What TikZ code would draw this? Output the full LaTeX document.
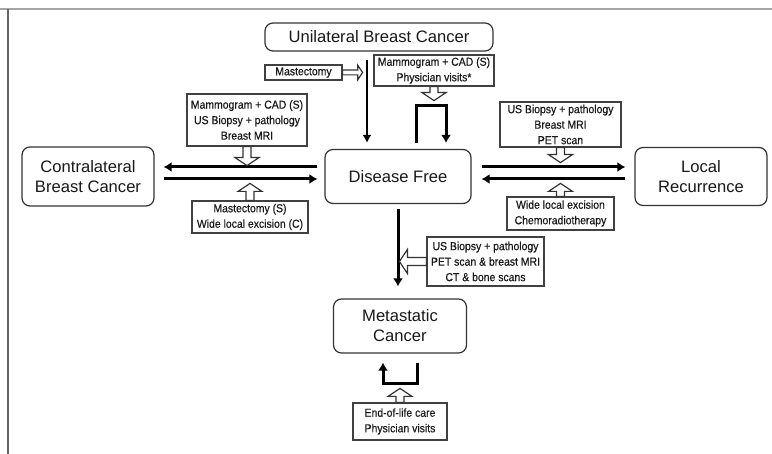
\documentclass[tikz,border=0pt]{standalone}
\usepackage{fontspec}
\setmainfont{Liberation Sans}
\newfontfamily\condfont[FakeStretch=0.9,FakeBold=0.4]{Liberation Sans}
\usepackage{tikz}
\usetikzlibrary{calc, arrows.meta, positioning}

\tikzset{
  stagebox/.style={draw=black!80, line width=1.2pt, rounded corners=8pt, fill=white,
    align=center, inner sep=0pt, text=black!90, font=\fontsize{16.6}{20}\selectfont},
  infobox/.style={draw=black!75, line width=1.2pt, fill=white, align=center,
    inner sep=0pt, text=black!90, font=\condfont\fontsize{11.6}{15.5}\selectfont},
  flow/.style={line width=2pt, -{Latex[length=8pt,width=9pt]}},
  thickflow/.style={line width=3pt, line join=miter, -{Latex[length=8pt,width=10pt]}},
  hollowarr/.style={draw=black!80, line width=1.2pt, fill=white, line join=miter},
}

% hollow block arrow: [size] {from} {tip}
\newcommand{\openarrow}[3][1]{%
  \coordinate (oa-base) at ($(#3)!{#1*8pt}!(#2)$);
  \draw[hollowarr] ($(#2)!{#1*4pt}!90:(#3)$) -- ($(oa-base)!{#1*4pt}!90:(#3)$)
    -- ($(oa-base)!{#1*12pt}!90:(#3)$) -- (#3) -- ($(oa-base)!{#1*12pt}!-90:(#3)$)
    -- ($(oa-base)!{#1*4pt}!-90:(#3)$) -- ($(#2)!{#1*4pt}!-90:(#3)$) -- cycle;}

\begin{document}
\begin{tikzpicture}[x=1pt, y=-1pt]
    \useasboundingbox (0,0) rectangle (772,454);

    % 1. Page frame
    \draw[black!35, line width=2pt] (0,9) -- (772,9);
    \draw[black!60, line width=1.5pt] (8,9) -- (8,454);

    % 2. Stages
    \node[stagebox, minimum width=228pt, minimum height=28pt] (unil) at (379,37) {Unilateral Breast Cancer};
    \node[stagebox, minimum width=132pt, minimum height=59pt] (contra) at (88,176.5) {Contralateral\\Breast Cancer};
    \node[stagebox, minimum width=146pt, minimum height=54pt] (free) at (398,176.5) {Disease Free};
    \node[stagebox, minimum width=132pt, minimum height=58pt] (local) at (701,176.5) {Local\\Recurrence};
    \node[stagebox, minimum width=133pt, minimum height=54pt] (meta) at (400,326) {Metastatic\\Cancer};

    % 3. Procedures
    \node[infobox, minimum width=77pt, minimum height=15pt] (mast) at (303.5,72.5) {Mastectomy};
    \node[infobox, minimum width=120pt, minimum height=31pt] (mamtop) at (434,70.5) {Mammogram + CAD (S)\\Physician visits*};
    \node[infobox, minimum width=120pt, minimum height=52pt] (leftup) at (247,120) {Mammogram + CAD (S)\\US Biopsy + pathology\\Breast MRI};
    \node[infobox, minimum width=116pt, minimum height=32pt] (leftdn) at (250,217) {Mastectomy (S)\\Wide local excision (C)};
    \node[infobox, minimum width=121pt, minimum height=45pt] (rightup) at (560.5,124.5) {US Biopsy + pathology\\Breast MRI\\PET scan};
    \node[infobox, minimum width=107pt, minimum height=33pt] (rightdn) at (560.5,213.5) {Wide local excision\\Chemoradiotherapy};
    \node[infobox, minimum width=117pt, minimum height=49pt] (metinfo) at (485.5,261.5) {US Biopsy + pathology\\PET scan \& breast MRI\\CT \& bone scans};
    \node[infobox, minimum width=94pt, minimum height=37pt] (eol) at (400,421.5) {End-of-life care\\Physician visits};

    % 4. Transitions
    \draw[flow] ($(unil.south)+(-12,8)$) -- ($(free.north)+(-31,-6)$);
    \draw[thickflow] ($(free.north)+(18,-6)$) -- ++(0,-37) -- ++(30,0) -- ++(0,37);
    \draw[thickflow] ($(free.west)+(-7,-9.5)$) -- ($(contra.east)+(9,-9.5)$);
    \draw[thickflow] ($(contra.east)+(9,2.5)$) -- ($(free.west)+(-7,2.5)$);
    \draw[thickflow] ($(free.east)+(10,-9.5)$) -- ($(local.west)+(-9,-9.5)$);
    \draw[thickflow] ($(local.west)+(-9,2.5)$) -- ($(free.east)+(10,2.5)$);
    \draw[thickflow] ($(free.south)+(0,5)$) -- ($(free.south |- meta.north)+(0,-12)$);
    \draw[thickflow] ($(meta.south)+(17,9)$) -- ++(0,21) -- ++(-34,0) -- ++(0,-21);

    % 5. Hollow arrows from procedures
    \coordinate (mast-tip) at ($(mast.east)+(20,0)$);
    \coordinate (mamtop-tip) at ($(mamtop.south)+(0,14)$);
    \coordinate (leftup-tip) at ($(leftup.south)+(0,19)$);
    \coordinate (leftdn-tip) at ($(leftdn.north)+(0,-17)$);
    \coordinate (rightup-tip) at ($(rightup.south)+(0,15)$);
    \coordinate (rightdn-tip) at ($(rightdn.north)+(0,-13)$);
    \coordinate (metinfo-tip) at ($(metinfo.west)+(-27,0)$);
    \coordinate (eol-tip) at ($(eol.north)+(0,-14)$);
    \openarrow[0.6]{mast.east}{mast-tip}
    \openarrow{mamtop.south}{mamtop-tip}
    \openarrow{leftup.south}{leftup-tip}
    \openarrow{leftdn.north}{leftdn-tip}
    \openarrow{rightup.south}{rightup-tip}
    \openarrow{rightdn.north}{rightdn-tip}
    \openarrow{metinfo.west}{metinfo-tip}
    \openarrow{eol.north}{eol-tip}
\end{tikzpicture}
\end{document}
